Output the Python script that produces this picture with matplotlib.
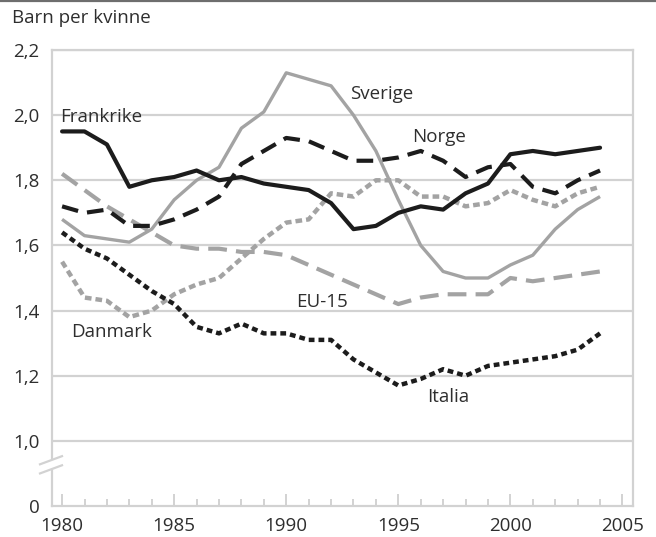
import matplotlib.pyplot as plt
from matplotlib.lines import Line2D

plt.rcParams['font.family'] = ['Open Sans', 'DejaVu Sans']

years = list(range(1980, 2005))

frankrike = [1.95, 1.95, 1.91, 1.78, 1.80, 1.81, 1.83, 1.80, 1.81, 1.79, 1.78, 1.77, 1.73,
             1.65, 1.66, 1.70, 1.72, 1.71, 1.76, 1.79, 1.88, 1.89, 1.88, 1.89, 1.90]
sverige = [1.68, 1.63, 1.62, 1.61, 1.65, 1.74, 1.80, 1.84, 1.96, 2.01, 2.13, 2.11, 2.09,
           2.00, 1.89, 1.74, 1.60, 1.52, 1.50, 1.50, 1.54, 1.57, 1.65, 1.71, 1.75]
norge = [1.72, 1.70, 1.71, 1.66, 1.66, 1.68, 1.71, 1.75, 1.85, 1.89, 1.93, 1.92, 1.89,
         1.86, 1.86, 1.87, 1.89, 1.86, 1.81, 1.84, 1.85, 1.78, 1.76, 1.80, 1.83]
eu15 = [1.82, 1.77, 1.72, 1.68, 1.64, 1.60, 1.59, 1.59, 1.58, 1.58, 1.57, 1.54, 1.51,
        1.48, 1.45, 1.42, 1.44, 1.45, 1.45, 1.45, 1.50, 1.49, 1.50, 1.51, 1.52]
danmark = [1.55, 1.44, 1.43, 1.38, 1.40, 1.45, 1.48, 1.50, 1.56, 1.62, 1.67, 1.68, 1.76,
           1.75, 1.80, 1.80, 1.75, 1.75, 1.72, 1.73, 1.77, 1.74, 1.72, 1.76, 1.78]
italia = [1.64, 1.59, 1.56, 1.51, 1.46, 1.42, 1.35, 1.33, 1.36, 1.33, 1.33, 1.31, 1.31,
          1.25, 1.21, 1.17, 1.19, 1.22, 1.20, 1.23, 1.24, 1.25, 1.26, 1.28, 1.33]

ytick_vals = [0.8, 1.0, 1.2, 1.4, 1.6, 1.8, 2.0, 2.2]
ytick_labels = ['0', '1,0', '1,2', '1,4', '1,6', '1,8', '2,0', '2,2']
xtick_vals = [1980, 1985, 1990, 1995, 2000, 2005]

black = '#1c1c1c'
gray = '#a3a3a3'
grid_c = '#d2d2d2'
text_c = '#2e2e2e'

fig = plt.figure(figsize=(6.56, 5.37), dpi=100)
ax = fig.add_axes([52 / 656, 1 - 506 / 537, 581 / 656, 456 / 537])

for v in ytick_vals[1:]:
    ax.axhline(v, color=grid_c, lw=1.6, zorder=0)

ax.plot(years, sverige, color=gray, lw=2.4, solid_capstyle='butt')
ax.plot(years, eu15, color=gray, lw=3.0, dashes=(4.5, 2.2))
ax.plot(years, danmark, color=gray, lw=3.2, dashes=(1.5, 0.9))
ax.plot(years, frankrike, color=black, lw=3.0, solid_capstyle='round')
ax.plot(years, norge, color=black, lw=3.0, dashes=(4.0, 2.2))
ax.plot(years, italia, color=black, lw=3.2, dashes=(1.3, 0.9))

ax.set_xlim(1979.55, 2005.47)
ax.set_ylim(0.8, 2.2)

ax.set_yticks(ytick_vals)
ax.set_yticklabels(ytick_labels)
ax.set_xticks(xtick_vals)
ax.set_xticks(range(1980, 2006), minor=True)

ax.tick_params(axis='y', length=0, pad=9, labelsize=13.5, labelcolor=text_c)
ax.tick_params(axis='x', which='major', direction='in', length=9, width=1.4,
               color=grid_c, pad=8, labelsize=13.5, labelcolor=text_c)
ax.tick_params(axis='x', which='minor', direction='in', length=5, width=1.4,
               color=grid_c)

for s in ax.spines.values():
    s.set_color(grid_c)
    s.set_linewidth(1.6)

# axis break on left spine
bx0, bx1 = -12 / 581, 10 / 581
ax.fill([bx0, bx1, bx1, bx0], [0.9, 0.925, 0.953, 0.928], color='white',
        transform=ax.get_yaxis_transform(), clip_on=False, zorder=5)
for y0 in (0.9, 0.928):
    ax.add_line(Line2D([bx0, bx1], [y0, y0 + 0.025], color=grid_c, lw=1.6,
                       transform=ax.get_yaxis_transform(), clip_on=False, zorder=6))

lab = dict(fontsize=13.5, color=text_c, va='center', ha='left')
ax.text(1979.9, 1.994, 'Frankrike', **lab)
ax.text(1992.85, 2.065, 'Sverige', **lab)
ax.text(1995.6, 1.932, 'Norge', **lab)
ax.text(1990.45, 1.425, 'EU-15', **lab)
ax.text(1980.4, 1.335, 'Danmark', **lab)
ax.text(1996.3, 1.135, 'Italia', **lab)

fig.text(12 / 656, 1 - 18 / 537, 'Barn per kvinne', fontsize=13.5, color=text_c,
         va='center', ha='left')
fig.add_artist(Line2D([0, 1], [1 - 1 / 537, 1 - 1 / 537], color='#6e6e6e', lw=1.6))

fig.savefig('out.png', dpi=100)
